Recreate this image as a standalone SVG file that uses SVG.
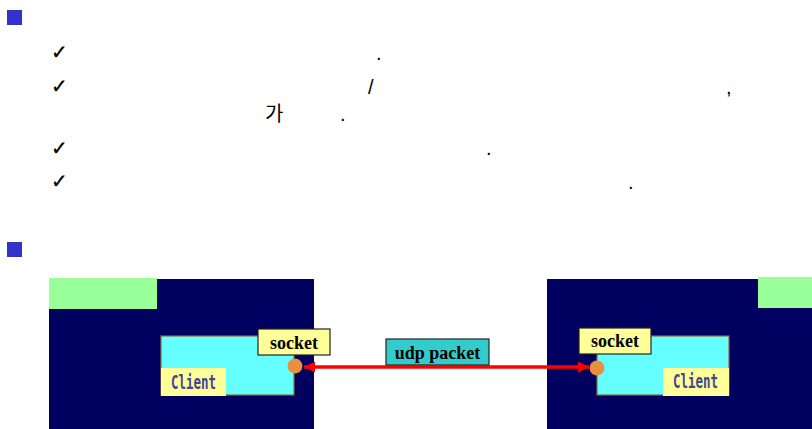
<svg xmlns="http://www.w3.org/2000/svg" width="812" height="429" viewBox="0 0 812 429">
  <style>
    .bullet { fill: #3333cc; }
    .check { font-family: "DejaVu Sans", sans-serif; font-size: 20px; fill: #000; stroke: #000; stroke-width: 0.3; }
    .body { font-family: "Liberation Sans", "Noto Sans CJK KR", sans-serif; font-size: 20px; fill: #000; }
    .host { fill: #000060; }
    .title { fill: #99ff99; }
    .proc { fill: #66ffff; stroke: #8a6a3a; stroke-width: 1.2; }
    .tag { fill: #ffff99; }
    .tagbox { fill: #ffff99; stroke: #222; stroke-width: 1.2; }
    .proclabel { font-family: "DejaVu Sans Mono", monospace; font-weight: bold; font-size: 19px; fill: #444499; }
    .sock { fill: #e89040; }
    .lbl { font-family: "Liberation Serif", serif; font-weight: bold; font-size: 18px; fill: #000; text-anchor: middle; }
    .link { stroke: #ff0000; stroke-width: 3.5; fill: none; }
  </style>
  <defs>
    <marker id="head" viewBox="0 0 10 10" refX="10" refY="5" markerWidth="3.2" markerHeight="3.2" orient="auto-start-reverse" markerUnits="strokeWidth">
      <path d="M0,0 L10,5 L0,10 Z" fill="#ff0000"/>
    </marker>
  </defs>

  <!-- bullet list -->
  <g id="list">
    <rect class="bullet" x="7" y="10" width="15" height="15"/>
    <text class="check" x="51" y="59">✓</text>
    <text class="check" x="51" y="93">✓</text>
    <text class="check" x="51" y="155">✓</text>
    <text class="check" x="51" y="188">✓</text>
    <text class="body" x="376" y="60">.</text>
    <text class="body" x="368" y="94">/</text>
    <text class="body" x="726" y="94">,</text>
    <text class="body" x="265" y="121" style="font-family:'Noto Sans CJK KR', sans-serif">가</text>
    <text class="body" x="340" y="121">.</text>
    <text class="body" x="486" y="155">.</text>
    <text class="body" x="628" y="189">.</text>
    <rect class="bullet" x="7" y="242" width="15" height="15"/>
  </g>

  <!-- left host -->
  <g id="host-left">
    <rect class="host" x="49" y="279" width="265" height="150"/>
    <rect class="title" x="49" y="278" width="108" height="31"/>
    <rect class="proc" x="161" y="336" width="133" height="59"/>
    <rect class="tag" x="161" y="368" width="65" height="28"/>
    <text class="proclabel" x="171" y="389" textLength="45" lengthAdjust="spacingAndGlyphs">Client</text>
    <rect class="tagbox" x="258" y="329" width="72" height="26"/>
    <text class="lbl" x="294" y="349">socket</text>
    <circle class="sock" cx="295" cy="366" r="7.5"/>
  </g>

  <!-- right host -->
  <g id="host-right">
    <rect class="host" x="547" y="279" width="265" height="150"/>
    <rect class="title" x="758" y="277" width="54" height="31"/>
    <rect class="proc" x="597" y="336" width="132" height="59"/>
    <rect class="tag" x="663" y="368" width="66" height="28"/>
    <text class="proclabel" x="673" y="388" textLength="45" lengthAdjust="spacingAndGlyphs">Client</text>
    <rect class="tagbox" x="579" y="328" width="72" height="26"/>
    <text class="lbl" x="615" y="347">socket</text>
    <circle class="sock" cx="597" cy="368" r="7.5"/>
  </g>

  <!-- connectors -->
  <g id="connectors">
    <line class="link" x1="304" y1="367" x2="589" y2="367" marker-start="url(#head)" marker-end="url(#head)"/>
  </g>

  <!-- packet label -->
  <g id="packet">
    <rect x="386" y="339" width="103" height="26" fill="#33cccc" stroke="#222" stroke-width="1.2"/>
    <text class="lbl" x="437.5" y="359">udp packet</text>
  </g>
</svg>
